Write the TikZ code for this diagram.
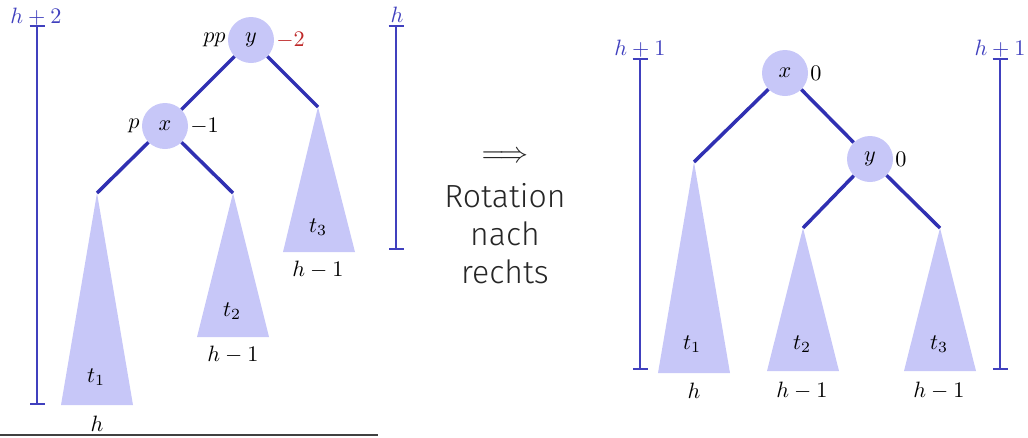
\documentclass[tikz,border=0pt]{standalone}
\usepackage{graphicx}
\usepackage{fontspec}
\newfontfamily\fira{Fira Sans Light}
\usetikzlibrary{arrows.meta}
\newcommand{\mbig}[1]{\scalebox{2.22}{$#1$}}
\definecolor{nodefill}{RGB}{199,199,248}
\definecolor{edgeblue}{RGB}{48,48,178}
\definecolor{barblue}{RGB}{64,64,190}
\definecolor{balred}{RGB}{190,40,40}
\tikzset{
  tnode/.style={circle,fill=nodefill,minimum size=46pt,inner sep=0pt,font=\normalsize},
  edge/.style={edgeblue,line width=3.5pt},
  subtree/.style={fill=nodefill,draw=none},
  hbar/.style={barblue,line width=1.8pt,{Bar[width=15pt]}-{Bar[width=15pt]}},
  lbl/.style={font=\normalsize,inner sep=2pt},
  blbl/.style={lbl,text=barblue},
  midtext/.style={font=\fira\fontsize{32}{38}\selectfont,inner sep=0pt,text=black!85}
}
\begin{document}
\begin{tikzpicture}[x=1pt,y=-1pt]
\useasboundingbox (0,0) rectangle (1028,437);
% ---------- left tree ----------
\coordinate (LA1) at (97,193);
\coordinate (LA2) at (233,193);
\coordinate (LA3) at (318,107);
\fill[subtree] (LA1) -- (133,405) -- (61,405) -- cycle;
\fill[subtree] (LA2) -- (269,337) -- (197,337) -- cycle;
\fill[subtree] (LA3) -- (355,252) -- (283,252) -- cycle;
\node[tnode] (ly) at (251,40) {\mbig{y}};
\node[tnode] (lx) at (165,126) {\mbig{x}};
\draw[edge] (ly) -- (lx);
\draw[edge] (ly) -- (LA3);
\draw[edge] (lx) -- (LA1);
\draw[edge] (lx) -- (LA2);
\node[lbl,anchor=east] (lpp) at (ly.west) {\mbig{pp}};
\node[lbl,anchor=west,text=balred] (lyb) at (ly.east) {\mbig{-2}};
\node[lbl,anchor=east] (lp) at (lx.west) {\mbig{p}};
\node[lbl,anchor=west] (lxb) at (lx.east) {\mbig{-1}};
\node[lbl] (lt1) at (96,377) {\mbig{t_1}};
\node[lbl] (lt2) at (232,311) {\mbig{t_2}};
\node[lbl] (lt3) at (318,227) {\mbig{t_3}};
\node[lbl] (lh1) at (97,424) {\mbig{h}};
\node[lbl] (lh2) at (233,355) {\mbig{h-1}};
\node[lbl] (lh3) at (318,270) {\mbig{h-1}};
\coordinate (LB1t) at (37,25);
\coordinate (LB1b) at (37,405);
\draw[hbar] (LB1t) -- (LB1b);
\node[blbl] (lb1) at (36,17) {\mbig{h+2}};
\coordinate (LB2t) at (396,25);
\coordinate (LB2b) at (396,250);
\draw[hbar] (LB2t) -- (LB2b);
\node[blbl] (lb2) at (397,15) {\mbig{h}};
\coordinate (GL) at (0,435);
\coordinate (GR) at (378,435);
\draw[black!75,line width=1.2pt] (GL) -- (GR);
% ---------- middle ----------
\node[font=\normalsize,text=black!85,inner sep=0pt] (arr) at (505,157) {\scalebox{2.9}{$\Longrightarrow$}};
\node[midtext] (rot1) at (505,196) {Rotation};
\node[midtext] (rot2) at (505,234) {nach};
\node[midtext] (rot3) at (505,272) {rechts};
% ---------- right tree ----------
\coordinate (RA1) at (694,162);
\coordinate (RA2) at (803,228);
\coordinate (RA3) at (940,228);
\fill[subtree] (RA1) -- (730,373) -- (658,373) -- cycle;
\fill[subtree] (RA2) -- (839,371) -- (767,371) -- cycle;
\fill[subtree] (RA3) -- (976,371) -- (904,371) -- cycle;
\node[tnode] (rx) at (785,73) {\mbig{x}};
\node[tnode] (ry) at (870,159) {\mbig{y}};
\draw[edge] (rx) -- (RA1);
\draw[edge] (rx) -- (ry);
\draw[edge] (ry) -- (RA2);
\draw[edge] (ry) -- (RA3);
\node[lbl,anchor=west] (rxb) at (rx.east) {\mbig{0}};
\node[lbl,anchor=west] (ryb) at (ry.east) {\mbig{0}};
\node[lbl] (rt1) at (692,344) {\mbig{t_1}};
\node[lbl] (rt2) at (802,344) {\mbig{t_2}};
\node[lbl] (rt3) at (939,344) {\mbig{t_3}};
\node[lbl] (rh1) at (694,391) {\mbig{h}};
\node[lbl] (rh2) at (802,391) {\mbig{h-1}};
\node[lbl] (rh3) at (939,391) {\mbig{h-1}};
\coordinate (RB1t) at (640,58);
\coordinate (RB1b) at (640,370);
\draw[hbar] (RB1t) -- (RB1b);
\node[blbl] (rb1) at (640,49) {\mbig{h+1}};
\coordinate (RB2t) at (1000,58);
\coordinate (RB2b) at (1000,370);
\draw[hbar] (RB2t) -- (RB2b);
\node[blbl] (rb2) at (1000,49) {\mbig{h+1}};
\end{tikzpicture}
\end{document}
